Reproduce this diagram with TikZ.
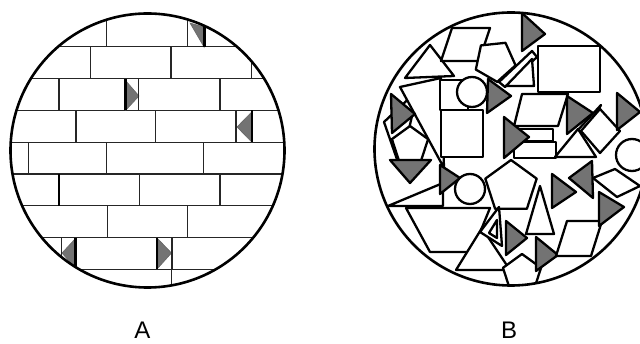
\documentclass[tikz,border=0pt]{standalone}
\usepackage{fontspec}
\setmainfont{Liberation Sans}
\usepackage{xcolor}
\usepackage{tikz}

% regular pentagon: [style] {centre} {radius} {start angle}
\newcommand{\pentshape}[4][]{%
  \draw[wpiece,#1,shift={(#2)}] (#4:#3) -- ({#4+72}:#3) -- ({#4+144}:#3)
    -- ({#4+216}:#3) -- ({#4+288}:#3) -- cycle;}

\begin{document}
\begin{tikzpicture}[x=1pt, y=-1pt]
  \tikzset{
    rim/.style={draw=black, line width=2.6pt},
    brick/.style={draw=black!85, line width=1.3pt},
    hbrick/.style={draw=black, line width=2.2pt},
    gwedge/.style={draw=black!60, fill=black!55, line width=0.6pt},
    wpiece/.style={draw=black, fill=white, line width=2.3pt, line join=round},
    gpiece/.style={wpiece, fill=black!55},
    lbl/.style={inner sep=0pt, font=\fontsize{24}{28}\selectfont}
  }
  \useasboundingbox (0,0) rectangle (640,344);
  \coordinate (ca) at (147.5,150.5);
  \coordinate (cb) at (511,149);

  % Picture A: brick wall
  \begin{scope}
    \clip (ca) circle[radius=137pt];
    \foreach \y in {46.8,78.6,110.4,142.2,174,205.8,237.6,269.4}
      \draw[brick] (0,\y) -- (300,\y);
    % gray wedges
    \draw[gwedge] (190,23) -- (204,27) -- (204,47) -- cycle;
    \draw[gwedge] (126,81) -- (126,110) -- (139,96) -- cycle;
    \draw[gwedge] (251.7,112) -- (251.7,142) -- (237,127) -- cycle;
    \draw[gwedge] (75,239) -- (75,268) -- (62,253) -- cycle;
    \draw[gwedge] (158,239) -- (158,268) -- (171.5,253) -- cycle;
    % joints
    \foreach \x/\ya/\yb in {106.7/0/46.8, 187.3/0/46.8,
                            90.7/46.8/78.6, 171/46.8/78.6, 251.7/46.8/78.6,
                            59/78.6/110.4, 138.5/78.6/110.4, 220/78.6/110.4,
                            76/110.4/142.2, 155.7/110.4/142.2, 236/110.4/142.2,
                            28.3/142.2/174, 106.7/142.2/174, 203.3/142.2/174,
                            139.3/174/205.8, 220/174/205.8,
                            107.3/205.8/237.6, 187.7/205.8/237.6,
                            61.5/237.6/269.4, 172/237.6/269.4,
                            171.7/269.4/300}
      \draw[brick] (\x,\ya) -- (\x,\yb);
    \foreach \x/\ya/\yb in {204.5/0/46.8, 125.5/78.6/110.4, 251.7/110.4/142.2,
                            59.3/174/205.8, 75.5/237.6/269.4, 156.7/237.6/269.4}
      \draw[hbrick] (\x,\ya) -- (\x,\yb);
  \end{scope}
  \draw[rim] (ca) circle[radius=137pt];

  % Picture B: heap of shapes
  \begin{scope}
    \clip (cb) circle[radius=136.5pt];
    % back layer
    \draw[wpiece] (384,122) -- (418,90) -- (400,168) -- cycle;
    \draw[wpiece] (400,87) -- (441,78) -- (444,168) -- cycle;
    \draw[wpiece] (388,206) -- (443,183) -- (443,206) -- cycle;
    \draw[wpiece] (406,208) -- (490,208) -- (472,252) -- (430,252) -- cycle;
    \draw[wpiece] (456,270) -- (482,228) -- (510,270) -- cycle;
    \draw[wpiece] (538,46) rectangle (600,92);
    \draw[wpiece] (405,78) -- (430,45) -- (454,76) -- cycle;
    \draw[wpiece] (452,28) -- (490,28) -- (479,61) -- (441,61) -- cycle;
    \pentshape{495,61}{21}{-60}
    \draw[wpiece] (499,82) -- (532,51) -- (537,57) -- (505,87) -- cycle;
    \draw[wpiece] (506,86) -- (532,59) -- (534,86) -- cycle;
    \draw[gpiece] (522,13) -- (522,51) -- (545,34) -- cycle;
    % upper middle
    \draw[wpiece] (440,80) rectangle (468,110);
    \draw[wpiece] (441,110) rectangle (483,157);
    \draw[wpiece] (472,92) circle[radius=15pt];
    \draw[gpiece] (488,79) -- (511,96) -- (487,113) -- cycle;
    \draw[gpiece] (391,94) -- (392,133) -- (415,114) -- cycle;
    \pentshape{410,145}{19}{-90}
    \draw[gpiece] (390,160) -- (431,160) -- (410,183) -- cycle;
    \draw[wpiece] (522,94) -- (568,94) -- (558,126) -- (514,126) -- cycle;
    \draw[wpiece] (520,129) rectangle (553,141);
    \draw[wpiece] (514,142) rectangle (556,158);
    \draw[gpiece] (504,117) -- (504,158) -- (529,137) -- cycle;
    \draw[wpiece] (577,131) -- (601,105) -- (587,131) -- cycle;
    \draw[gpiece] (567,96) -- (567,134) -- (593,113) -- cycle;
    \draw[wpiece] (600,109) -- (620,131) -- (600,153) -- (581,131) -- cycle;
    \draw[gpiece] (617,93) -- (617,130) -- (640,112) -- cycle;
    \draw[wpiece] (555,157) -- (578,129) -- (596,157) -- cycle;
    \draw[wpiece] (632,155) circle[radius=16pt];
    % lower half
    \pentshape{511,187}{27}{-90}
    \draw[gpiece] (440,165) -- (440,194) -- (460,178) -- cycle;
    \draw[wpiece] (470,189) circle[radius=15pt];
    \draw[wpiece] (480,232) -- (499,207) -- (502,246) -- cycle;
    \draw[wpiece] (489,233) -- (497,220) -- (497,238) -- cycle;
    \draw[wpiece] (526,234) -- (540,186) -- (554,234) -- cycle;
    \draw[gpiece] (506,221) -- (506,255) -- (527,238) -- cycle;
    \pentshape{522,274}{20}{-90}
    \draw[gpiece] (536,237) -- (536,271) -- (558,255) -- cycle;
    \draw[wpiece] (567,221) -- (602,221) -- (591,256) -- (556,256) -- cycle;
    \draw[gpiece] (552,174) -- (552,208) -- (576,192) -- cycle;
    \draw[gpiece] (592,161) -- (593,198) -- (569,178) -- cycle;
    \draw[wpiece] (593,178) -- (615,169) -- (640,186) -- (617,197) -- cycle;
    \draw[gpiece] (599,192) -- (599,226) -- (624,207) -- cycle;
  \end{scope}
  \draw[rim] (cb) circle[radius=136.5pt];

  % captions
  \node[lbl] (labA) at (142.5,330.5) {A};
  \node[lbl] (labB) at (509,330.5) {B};
\end{tikzpicture}
\end{document}
